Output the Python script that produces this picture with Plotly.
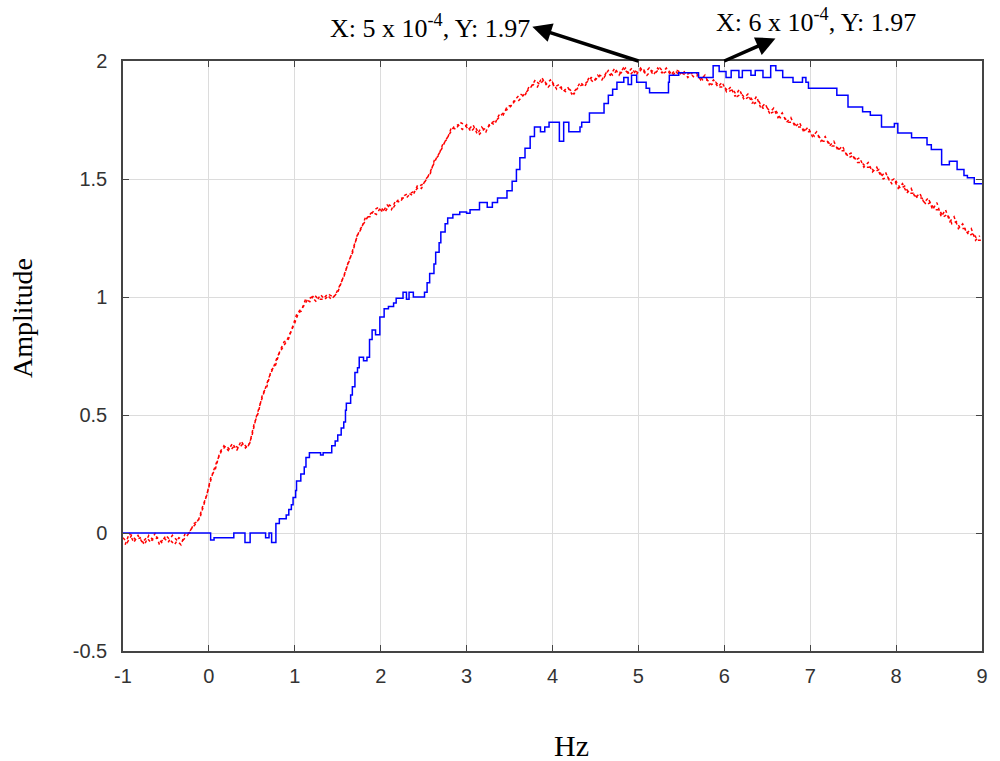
import plotly.graph_objects as go

# ---- data ----
blue_x = [-1.0, 0.02, 0.06, 0.29, 0.42, 0.48, 0.66, 0.70, 0.73, 0.78, 0.82, 0.90, 0.93, 0.96, 0.98,
          1.01, 1.02, 1.07, 1.11, 1.13, 1.17, 1.30, 1.33, 1.43, 1.47, 1.50, 1.54, 1.57, 1.59, 1.60,
          1.65, 1.67, 1.70, 1.73, 1.75, 1.80, 1.84, 1.87, 1.90, 1.94, 1.99, 2.04, 2.09, 2.15, 2.18,
          2.26, 2.30, 2.33, 2.38, 2.51, 2.54, 2.57, 2.62, 2.64, 2.68, 2.70, 2.75, 2.78, 2.84, 2.92,
          3.00, 3.04, 3.15, 3.24, 3.30, 3.36, 3.47, 3.53, 3.58, 3.62, 3.68, 3.74, 3.79, 3.86, 3.91,
          3.96, 4.08, 4.13, 4.19, 4.32, 4.34, 4.43, 4.60, 4.65, 4.70, 4.75, 4.83, 4.88, 4.92, 4.98,
          5.09, 5.13, 5.35, 5.36, 5.47, 5.70, 5.87, 5.94, 6.02, 6.08, 6.17, 6.21, 6.31, 6.36, 6.45,
          6.54, 6.60, 6.68, 6.80, 6.91, 6.95, 6.98, 7.31, 7.44, 7.61, 7.70, 7.83, 7.98, 8.02, 8.18,
          8.36, 8.41, 8.53, 8.62, 8.71, 8.79, 8.83, 8.91, 9.00]
blue_y = [0.0, -0.03, -0.02, 0.0, -0.04, 0.0, -0.02, 0.0, -0.04, 0.04, 0.06, 0.076, 0.10, 0.12, 0.15,
          0.18, 0.22, 0.25, 0.28, 0.32, 0.34, 0.33, 0.34, 0.37, 0.39, 0.415, 0.445, 0.47, 0.52, 0.55,
          0.585, 0.62, 0.68, 0.70, 0.745, 0.73, 0.745, 0.82, 0.86, 0.84, 0.915, 0.95, 0.96, 0.975, 0.995,
          1.02, 0.99, 1.02, 1.0, 1.02, 1.06, 1.10, 1.14, 1.19, 1.23, 1.275, 1.31, 1.335, 1.35, 1.36,
          1.355, 1.37, 1.40, 1.38, 1.40, 1.42, 1.45, 1.49, 1.54, 1.59, 1.63, 1.68, 1.72, 1.70, 1.72,
          1.74, 1.66, 1.74, 1.70, 1.72, 1.74, 1.78, 1.82, 1.855, 1.88, 1.91, 1.93, 1.90, 1.94, 1.91,
          1.885, 1.865, 1.91, 1.94, 1.95, 1.93, 1.98, 1.955, 1.93, 1.96, 1.93, 1.96, 1.94, 1.96, 1.93,
          1.98, 1.96, 1.93, 1.91, 1.93, 1.91, 1.885, 1.855, 1.805, 1.785, 1.77, 1.72, 1.735, 1.695, 1.675,
          1.645, 1.625, 1.56, 1.575, 1.54, 1.515, 1.505, 1.48, 1.48]

# red noisy samples, every 0.05 Hz
red_x = [round(-1 + 0.05 * i, 3) for i in range(201)]
red_y = [
    -0.02, -0.04, -0.01, -0.03, -0.02, -0.05, -0.01, -0.03, -0.02, -0.04, -0.01, -0.03, -0.05, -0.02, -0.03, -0.01, 0.02, 0.04, 0.07, 0.13,
    0.20, 0.26, 0.31, 0.35, 0.37, 0.35, 0.37, 0.36, 0.38, 0.36, 0.41, 0.49, 0.55, 0.61, 0.66, 0.70, 0.75, 0.78, 0.81, 0.85,
    0.89, 0.94, 0.96, 0.99, 1.00, 0.98, 1.01, 0.99, 1.01, 1.00, 1.02, 1.07, 1.12, 1.17, 1.23, 1.28, 1.31, 1.34, 1.36, 1.35,
    1.38, 1.36, 1.39, 1.38, 1.41, 1.42, 1.42, 1.44, 1.45, 1.47, 1.48, 1.51, 1.55, 1.59, 1.62, 1.66, 1.69, 1.72, 1.73, 1.71,
    1.73, 1.70, 1.72, 1.69, 1.71, 1.72, 1.74, 1.75, 1.77, 1.79, 1.80, 1.83, 1.83, 1.85, 1.87, 1.89, 1.92, 1.90, 1.92, 1.89,
    1.91, 1.88, 1.89, 1.87, 1.88, 1.86, 1.89, 1.90, 1.91, 1.93, 1.92, 1.94, 1.93, 1.96, 1.94, 1.96, 1.95, 1.97, 1.94, 1.96,
    1.95, 1.97, 1.94, 1.96, 1.95, 1.97, 1.95, 1.96, 1.94, 1.96, 1.95, 1.94, 1.95, 1.93, 1.94, 1.92, 1.92, 1.90, 1.91, 1.89,
    1.89, 1.87, 1.88, 1.85, 1.86, 1.84, 1.85, 1.82, 1.83, 1.80, 1.80, 1.78, 1.79, 1.76, 1.76, 1.74, 1.74, 1.72, 1.72, 1.70,
    1.70, 1.68, 1.68, 1.66, 1.66, 1.64, 1.64, 1.62, 1.62, 1.59, 1.60, 1.57, 1.57, 1.55, 1.55, 1.53, 1.54, 1.50, 1.51, 1.48,
    1.49, 1.46, 1.47, 1.44, 1.44, 1.42, 1.42, 1.39, 1.40, 1.37, 1.37, 1.34, 1.35, 1.31, 1.32, 1.29, 1.29, 1.26, 1.27, 1.24,
    1.24,
]
# second set of red samples, at the midpoints (the other edge of the noisy band)
red_x2 = [round(-0.975 + 0.05 * i, 3) for i in range(200)]
red_y2 = [
    -0.05, 0.00, -0.04, -0.01, -0.04, -0.02, -0.04, 0.00, -0.05, -0.02, -0.04, -0.01, -0.03, -0.05, 0.00, 0.00, 0.04, 0.05, 0.11, 0.16,
    0.24, 0.27, 0.34, 0.37, 0.35, 0.38, 0.35, 0.39, 0.36, 0.38, 0.46, 0.51, 0.59, 0.62, 0.69, 0.71, 0.77, 0.81, 0.82, 0.88,
    0.93, 0.94, 0.99, 0.98, 1.01, 0.99, 0.99, 1.01, 0.99, 1.01, 1.05, 1.09, 1.15, 1.19, 1.26, 1.29, 1.34, 1.34, 1.37, 1.38,
    1.36, 1.39, 1.37, 1.41, 1.40, 1.43, 1.44, 1.43, 1.47, 1.46, 1.50, 1.52, 1.58, 1.60, 1.65, 1.67, 1.72, 1.71, 1.74, 1.73,
    1.71, 1.73, 1.69, 1.72, 1.70, 1.74, 1.73, 1.77, 1.77, 1.81, 1.81, 1.84, 1.86, 1.85, 1.89, 1.90, 1.89, 1.93, 1.90, 1.92,
    1.89, 1.90, 1.87, 1.89, 1.86, 1.88, 1.91, 1.89, 1.93, 1.91, 1.94, 1.92, 1.95, 1.94, 1.97, 1.94, 1.97, 1.95, 1.97, 1.94,
    1.97, 1.95, 1.97, 1.94, 1.97, 1.95, 1.97, 1.94, 1.96, 1.94, 1.96, 1.93, 1.95, 1.95, 1.92, 1.94, 1.90, 1.92, 1.89, 1.91,
    1.87, 1.89, 1.85, 1.88, 1.84, 1.86, 1.82, 1.85, 1.80, 1.82, 1.78, 1.80, 1.76, 1.78, 1.74, 1.76, 1.72, 1.74, 1.70, 1.72,
    1.68, 1.70, 1.66, 1.68, 1.64, 1.66, 1.62, 1.64, 1.60, 1.61, 1.58, 1.59, 1.55, 1.57, 1.53, 1.55, 1.51, 1.53, 1.49, 1.50,
    1.46, 1.48, 1.44, 1.46, 1.42, 1.44, 1.40, 1.42, 1.37, 1.40, 1.34, 1.37, 1.32, 1.34, 1.29, 1.31, 1.27, 1.29, 1.24, 1.26,
]

x_ticks = [-1, 0, 1, 2, 3, 4, 5, 6, 7, 8, 9]
y_ticks = [-0.5, 0, 0.5, 1, 1.5, 2]
y_tick_text = ["-0.5", "0", "0.5", "1", "1.5", "2"]

# data-tip annotations: marked point on the curve, and where the label sits
ann1_point = (5.0, 2.0)
ann1_label = (3.765, 2.145)   # right-middle of label
ann2_point = (6.0, 2.0)
ann2_label = (7.07, 2.172)    # centre of label

fig = go.Figure()
for xs, ys in ((red_x, red_y), (red_x2, red_y2)):
    fig.add_trace(go.Scatter(x=xs, y=ys, mode="lines",
                             line=dict(color="#ff0000", width=1.5, dash="dot"),
                             showlegend=False, hoverinfo="skip"))
fig.add_trace(go.Scatter(x=blue_x, y=blue_y, mode="lines", line_shape="hv",
                         line=dict(color="#0000ff", width=1.5),
                         showlegend=False))

axis_common = dict(showline=True, linecolor="#444444", linewidth=1.5, mirror="ticks",
                   ticks="inside", ticklen=6, tickcolor="#444444", tickwidth=1,
                   showgrid=True, gridcolor="#dcdcdc", gridwidth=1, zeroline=False,
                   tickfont=dict(family="Liberation Sans, Arial", size=20, color="#333333"))

fig.update_xaxes(range=[-1, 9], tickvals=x_ticks, ticktext=[str(v) for v in x_ticks],
                 ticklabelstandoff=6, **axis_common)
fig.update_yaxes(range=[-0.5, 2], tickvals=y_ticks, ticktext=y_tick_text,
                 ticklabelstandoff=10, **axis_common)

serif = "Liberation Serif, Times New Roman, serif"
arrow_style = dict(showarrow=True, arrowside="start", startarrowhead=2, startarrowsize=1.1,
                   arrowwidth=3.5, arrowcolor="#000000", xref="x", yref="y", axref="x", ayref="y",
                   font=dict(family=serif, size=26, color="#000000"))
annotations = [
    dict(text="Amplitude", xref="paper", yref="paper", x=-0.1168, y=0.564, showarrow=False,
         textangle=-90, font=dict(family=serif, size=28, color="#000000"), xanchor="center", yanchor="middle"),
    dict(text="Hz", xref="paper", yref="paper", x=0.5225, y=-0.161, showarrow=False,
         font=dict(family=serif, size=30, color="#000000"), xanchor="center", yanchor="middle"),
    dict(text="X: 5 x 10<sup>-4</sup>, Y: 1.97", x=ann1_point[0], y=ann1_point[1],
         ax=ann1_label[0], ay=ann1_label[1], xanchor="right", yanchor="middle", **arrow_style),
    dict(text="X: 6 x 10<sup>-4</sup>, Y: 1.97", x=ann2_point[0], y=ann2_point[1],
         ax=ann2_label[0], ay=ann2_label[1], xanchor="center", yanchor="middle", **arrow_style),
]

fig.update_layout(width=1000, height=761, margin=dict(l=123, r=12, t=61, b=110),
                  paper_bgcolor="white", plot_bgcolor="white", annotations=annotations,
                  showlegend=False)

fig.write_html("out.html")
